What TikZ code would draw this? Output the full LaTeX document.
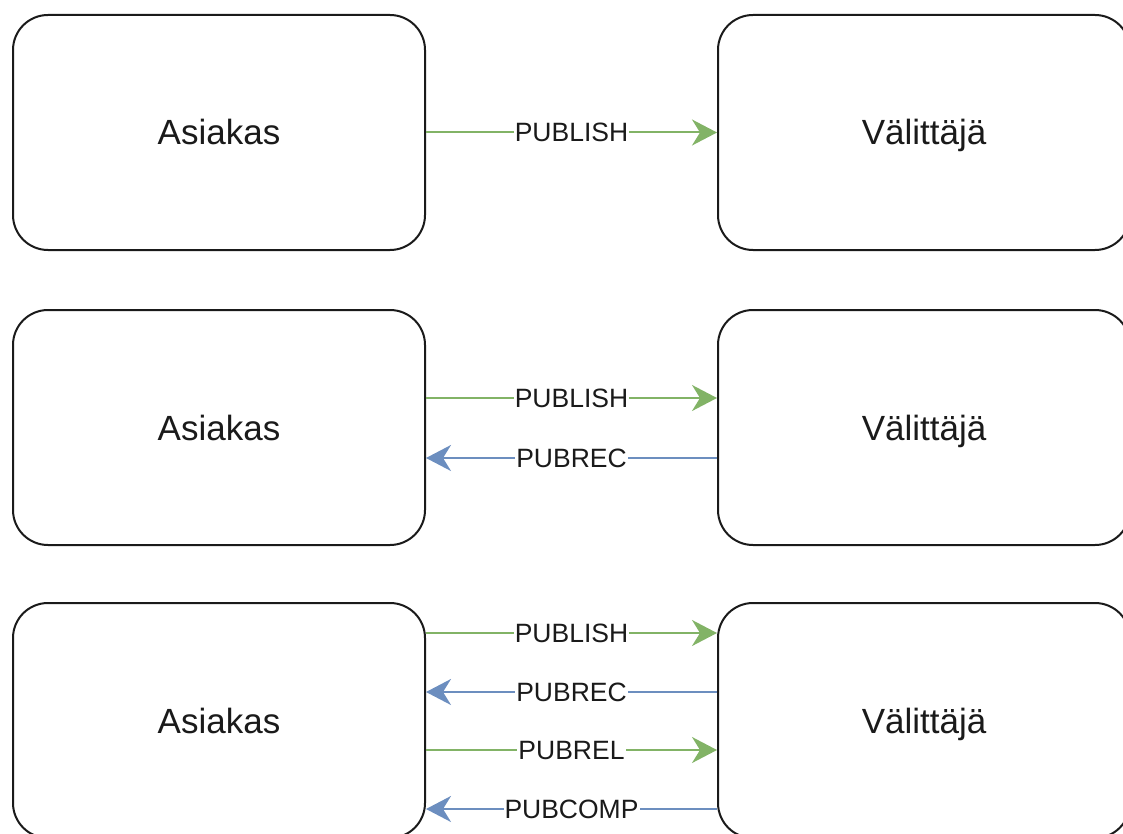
\documentclass[tikz,border=0pt]{standalone}
\usepackage{fontspec}
\setmainfont{Liberation Sans}
\usetikzlibrary{arrows.meta}
\definecolor{pubgreen}{HTML}{82B366}
\definecolor{pubblue}{HTML}{6C8EBF}
\definecolor{ink}{HTML}{1A1A1A}

\begin{document}
\begin{tikzpicture}[x=1pt,y=-1pt,
  party/.style={draw=ink, line width=2pt, rounded corners=35pt,
    minimum width=412pt, minimum height=235pt, inner sep=0pt,
    text height=25pt, text depth=0pt,
    text=ink, font=\fontsize{35}{40}\selectfont},
  msg/.style={line width=2pt, -{Stealth[length=25pt,width=26pt,inset=8pt]}},
  fwd/.style={msg, draw=pubgreen, fill=pubgreen},
  back/.style={msg, draw=pubblue, fill=pubblue},
  lbl/.style={fill=white, text=ink, inner sep=1pt,
    text height=19pt, text depth=0pt,
    font=\fontsize{26.5}{30}\selectfont}]

\useasboundingbox (0,0) rectangle (1123,834);

% QoS 0: a single PUBLISH
\node[party] (a1) at (219,132.5) {Asiakas};
\node[party] (b1) at (924,132.5) {Välittäjä};
\draw[fwd] (a1.east) -- node[lbl]{PUBLISH} (b1.west);

% QoS 1: PUBLISH and PUBREC
\node[party] (a2) at (219,427.5) {Asiakas};
\node[party] (b2) at (924,427.5) {Välittäjä};
\draw[fwd] ([yshift=29.5pt]a2.east) -- node[lbl]{PUBLISH} ([yshift=29.5pt]b2.west);
\draw[back] ([yshift=-30.5pt]b2.west) -- node[lbl]{PUBREC} ([yshift=-30.5pt]a2.east);

% QoS 2: four-way handshake
\node[party] (a3) at (219,720.5) {Asiakas};
\node[party] (b3) at (924,720.5) {Välittäjä};
\draw[fwd] ([yshift=87.5pt]a3.east) -- node[lbl]{PUBLISH} ([yshift=87.5pt]b3.west);
\draw[back] ([yshift=28.5pt]b3.west) -- node[lbl]{PUBREC} ([yshift=28.5pt]a3.east);
\draw[fwd] ([yshift=-29.5pt]a3.east) -- node[lbl]{PUBREL} ([yshift=-29.5pt]b3.west);
\draw[back] ([yshift=-88.5pt]b3.west) -- node[lbl]{PUBCOMP} ([yshift=-88.5pt]a3.east);
\end{tikzpicture}
\end{document}
